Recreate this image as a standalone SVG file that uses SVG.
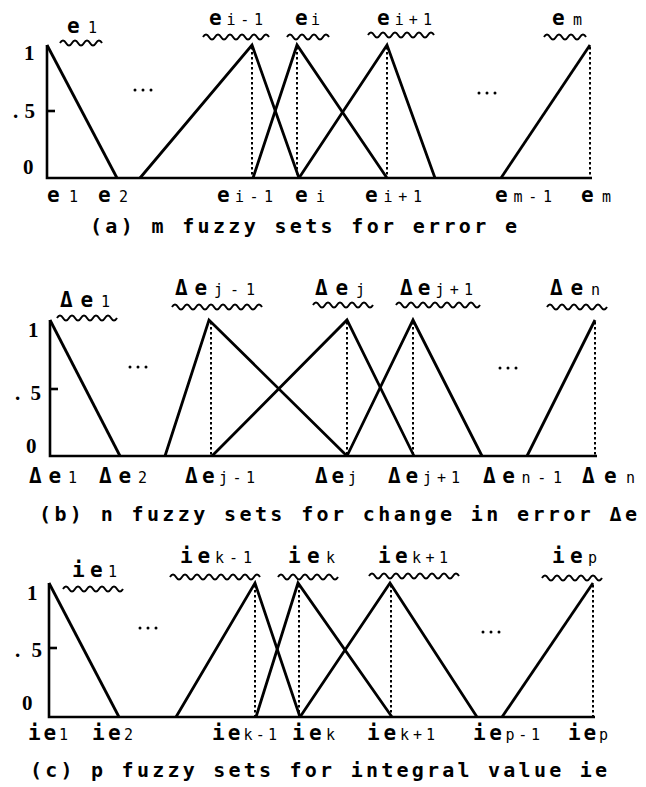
<svg xmlns="http://www.w3.org/2000/svg" width="646" height="787" viewBox="0 0 646 787">
<style>
.ln{fill:none;stroke:#000;stroke-width:2.8;stroke-linejoin:miter;stroke-linecap:butt}
.ax{fill:none;stroke:#000;stroke-width:2.6}
.dt{fill:none;stroke:#000;stroke-width:2;stroke-dasharray:2.5 2.5}
.sq{fill:none;stroke:#000;stroke-width:2}
.lb{font-family:"DejaVu Sans Mono","Liberation Mono",monospace;font-size:21px;font-weight:bold;fill:#000}
.sb{font-size:15px;font-weight:normal}
.cap{font-family:"DejaVu Sans Mono","Liberation Mono",monospace;font-size:20px;font-weight:bold;fill:#000}
.num{font-family:"Liberation Serif",serif;font-size:21px;font-weight:bold;fill:#000}
.dot{fill:#000}
</style>
<rect width="646" height="787" fill="#fff"/>

<!-- Panel (a) -->
<g id="panel-a">
  <g id="a-axes">
    <path class="ax" d="M47,45 V178 H592"/>
    <path class="ax" d="M47,111 H55"/>
    <text class="num" x="24" y="60">1</text>
    <text class="num" x="13" y="118" textLength="22">.5</text>
    <text class="num" x="23" y="174">0</text>
  </g>
  <g id="a-connectors">
    <path class="ln" d="M47,45 L117,178"/>
    <path class="ln" d="M140,178 L252,45 L299,178"/>
    <path class="ln" d="M253,178 L297,45 L387,178"/>
    <path class="ln" d="M299,178 L387,45 L435,178"/>
    <path class="ln" d="M501,178 L590,45"/>
    <path class="dt" d="M252,47 V178 M297,47 V178 M387,47 V178 M590,47 V178"/>
    <circle class="dot" cx="135" cy="90" r="1.5"/><circle class="dot" cx="143" cy="90" r="1.5"/><circle class="dot" cx="151" cy="90" r="1.5"/>
    <circle class="dot" cx="479" cy="93" r="1.5"/><circle class="dot" cx="487" cy="93" r="1.5"/><circle class="dot" cx="495" cy="93" r="1.5"/>
  </g>
  <g id="a-e1"><text class="lb" x="67" y="33" textLength="30">e<tspan class="sb">1</tspan></text>
    <path class="sq" d="M60,43 q3,-5 6,0 t6,0 t6,0 t6,0 t6,0 t6,0 t6,0"/></g>
  <g id="a-ei-1"><text class="lb" x="209" y="25" textLength="54">e<tspan class="sb">i-1</tspan></text>
    <path class="sq" d="M203,37 q3,-5 6,0 t6,0 t6,0 t6,0 t6,0 t6,0 t6,0 t6,0 t6,0 t6,0 t6,0"/></g>
  <g id="a-ei"><text class="lb" x="295" y="25" textLength="25">e<tspan class="sb">i</tspan></text>
    <path class="sq" d="M287,37 q3,-5 6,0 t6,0 t6,0 t6,0 t6,0 t6,0 t6,0"/></g>
  <g id="a-ei+1"><text class="lb" x="377" y="25" textLength="55">e<tspan class="sb">i+1</tspan></text>
    <path class="sq" d="M368,35 q3,-5 6,0 t6,0 t6,0 t6,0 t6,0 t6,0 t6,0 t6,0 t6,0 t6,0 t6,0"/></g>
  <g id="a-em"><text class="lb" x="552" y="25" textLength="30">e<tspan class="sb">m</tspan></text>
    <path class="sq" d="M544,37 q3,-5 6,0 t6,0 t6,0 t6,0 t6,0 t6,0 t6,0"/></g>
  <g id="a-xlabels">
    <text class="lb" x="47" y="202" textLength="31">e<tspan class="sb">1</tspan></text>
    <text class="lb" x="98" y="202" textLength="30">e<tspan class="sb">2</tspan></text>
    <text class="lb" x="217" y="202" textLength="56">e<tspan class="sb">i-1</tspan></text>
    <text class="lb" x="295" y="202" textLength="30">e<tspan class="sb">i</tspan></text>
    <text class="lb" x="365" y="202" textLength="57">e<tspan class="sb">i+1</tspan></text>
    <text class="lb" x="495" y="202" textLength="57">e<tspan class="sb">m-1</tspan></text>
    <text class="lb" x="581" y="202" textLength="30">e<tspan class="sb">m</tspan></text>
  </g>
  <text class="cap" x="90" y="233" textLength="427">(a) m fuzzy sets for error e</text>
</g>

<!-- Panel (b) -->
<g id="panel-b">
  <g id="b-axes">
    <path class="ax" d="M50,320 V456 H597"/>
    <path class="ax" d="M50,389 H58"/>
    <text class="num" x="28" y="337">1</text>
    <text class="num" x="15" y="400" textLength="26">.5</text>
    <text class="num" x="26" y="453">0</text>
  </g>
  <g id="b-connectors">
    <path class="ln" d="M50,320 L120,456"/>
    <path class="ln" d="M165,456 L209,320 L347,456"/>
    <path class="ln" d="M212,456 L347,320 L414,456"/>
    <path class="ln" d="M347,456 L413,320 L482,456"/>
    <path class="ln" d="M527,456 L595,320"/>
    <path class="dt" d="M211,322 V456 M347,322 V456 M413,322 V456 M595,322 V456"/>
    <circle class="dot" cx="130" cy="367" r="1.5"/><circle class="dot" cx="138" cy="367" r="1.5"/><circle class="dot" cx="146" cy="367" r="1.5"/>
    <circle class="dot" cx="500" cy="368" r="1.5"/><circle class="dot" cx="508" cy="368" r="1.5"/><circle class="dot" cx="516" cy="368" r="1.5"/>
  </g>
  <g id="b-de1"><text class="lb" x="60" y="307" textLength="50">Δe<tspan class="sb">1</tspan></text>
    <path class="sq" d="M57,318 q3,-5 6,0 t6,0 t6,0 t6,0 t6,0 t6,0 t6,0 t6,0 t6,0 t6,0"/></g>
  <g id="b-dej-1"><text class="lb" x="175" y="295" textLength="80">Δe<tspan class="sb">j-1</tspan></text>
    <path class="sq" d="M172,307 q3,-5 6,0 t6,0 t6,0 t6,0 t6,0 t6,0 t6,0 t6,0 t6,0 t6,0 t6,0 t6,0 t6,0 t6,0 t6,0"/></g>
  <g id="b-dej"><text class="lb" x="315" y="295" textLength="50">Δe<tspan class="sb">j</tspan></text>
    <path class="sq" d="M313,305 q3,-5 6,0 t6,0 t6,0 t6,0 t6,0 t6,0 t6,0 t6,0 t6,0 t6,0"/></g>
  <g id="b-dej+1"><text class="lb" x="400" y="295" textLength="73">Δe<tspan class="sb">j+1</tspan></text>
    <path class="sq" d="M396,305 q3,-5 6,0 t6,0 t6,0 t6,0 t6,0 t6,0 t6,0 t6,0 t6,0 t6,0 t6,0 t6,0 t6,0 t6,0"/></g>
  <g id="b-den"><text class="lb" x="550" y="295" textLength="50">Δe<tspan class="sb">n</tspan></text>
    <path class="sq" d="M547,307 q3,-5 6,0 t6,0 t6,0 t6,0 t6,0 t6,0 t6,0 t6,0 t6,0 t6,0"/></g>
  <g id="b-xlabels">
    <text class="lb" x="29" y="483" textLength="48">Δe<tspan class="sb">1</tspan></text>
    <text class="lb" x="99" y="483" textLength="48">Δe<tspan class="sb">2</tspan></text>
    <text class="lb" x="185" y="483" textLength="70">Δe<tspan class="sb">j-1</tspan></text>
    <text class="lb" x="315" y="483" textLength="42">Δe<tspan class="sb">j</tspan></text>
    <text class="lb" x="388" y="483" textLength="72">Δe<tspan class="sb">j+1</tspan></text>
    <text class="lb" x="483" y="483" textLength="79">Δe<tspan class="sb">n-1</tspan></text>
    <text class="lb" x="582" y="483" textLength="53">Δe<tspan class="sb">n</tspan></text>
  </g>
  <text class="cap" x="39" y="521" textLength="598">(b) n fuzzy sets for change in error Δe</text>
</g>

<!-- Panel (c) -->
<g id="panel-c">
  <g id="c-axes">
    <path class="ax" d="M49,583 V717 H595"/>
    <path class="ax" d="M49,648 H57"/>
    <text class="num" x="27" y="600">1</text>
    <text class="num" x="15" y="657" textLength="27">.5</text>
    <text class="num" x="22" y="710">0</text>
  </g>
  <g id="c-connectors">
    <path class="ln" d="M49,583 L119,717"/>
    <path class="ln" d="M176,717 L255,583 L300,717"/>
    <path class="ln" d="M256,717 L298,583 L392,717"/>
    <path class="ln" d="M300,717 L390,583 L477,717"/>
    <path class="ln" d="M502,717 L593,583"/>
    <path class="dt" d="M255,585 V717 M299,585 V717 M391,585 V717 M593,585 V717"/>
    <circle class="dot" cx="140" cy="628" r="1.5"/><circle class="dot" cx="148" cy="628" r="1.5"/><circle class="dot" cx="156" cy="628" r="1.5"/>
    <circle class="dot" cx="483" cy="632" r="1.5"/><circle class="dot" cx="491" cy="632" r="1.5"/><circle class="dot" cx="499" cy="632" r="1.5"/>
  </g>
  <g id="c-ie1"><text class="lb" x="72" y="577" textLength="45">ie<tspan class="sb">1</tspan></text>
    <path class="sq" d="M63,589 q3,-5 6,0 t6,0 t6,0 t6,0 t6,0 t6,0 t6,0 t6,0 t6,0 t6,0"/></g>
  <g id="c-iek-1"><text class="lb" x="180" y="563" textLength="72">ie<tspan class="sb">k-1</tspan></text>
    <path class="sq" d="M170,577 q3,-5 6,0 t6,0 t6,0 t6,0 t6,0 t6,0 t6,0 t6,0 t6,0 t6,0 t6,0 t6,0 t6,0 t6,0 t6,0"/></g>
  <g id="c-iek"><text class="lb" x="288" y="563" textLength="47">ie<tspan class="sb">k</tspan></text>
    <path class="sq" d="M278,577 q3,-5 6,0 t6,0 t6,0 t6,0 t6,0 t6,0 t6,0 t6,0 t6,0 t6,0"/></g>
  <g id="c-iek+1"><text class="lb" x="378" y="563" textLength="70">ie<tspan class="sb">k+1</tspan></text>
    <path class="sq" d="M369,576 q3,-5 6,0 t6,0 t6,0 t6,0 t6,0 t6,0 t6,0 t6,0 t6,0 t6,0 t6,0 t6,0 t6,0 t6,0 t6,0"/></g>
  <g id="c-iep"><text class="lb" x="552" y="563" textLength="45">ie<tspan class="sb">p</tspan></text>
    <path class="sq" d="M542,578 q3,-5 6,0 t6,0 t6,0 t6,0 t6,0 t6,0 t6,0 t6,0 t6,0 t6,0"/></g>
  <g id="c-xlabels">
    <text class="lb" x="28" y="740" textLength="40">ie<tspan class="sb">1</tspan></text>
    <text class="lb" x="92" y="740" textLength="41">ie<tspan class="sb">2</tspan></text>
    <text class="lb" x="212" y="740" textLength="65">ie<tspan class="sb">k-1</tspan></text>
    <text class="lb" x="292" y="740" textLength="43">ie<tspan class="sb">k</tspan></text>
    <text class="lb" x="367" y="740" textLength="68">ie<tspan class="sb">k+1</tspan></text>
    <text class="lb" x="473" y="740" textLength="67">ie<tspan class="sb">p-1</tspan></text>
    <text class="lb" x="568" y="740" textLength="40">ie<tspan class="sb">p</tspan></text>
  </g>
  <text class="cap" x="30" y="777" textLength="577">(c) p fuzzy sets for integral value ie</text>
</g>
</svg>
